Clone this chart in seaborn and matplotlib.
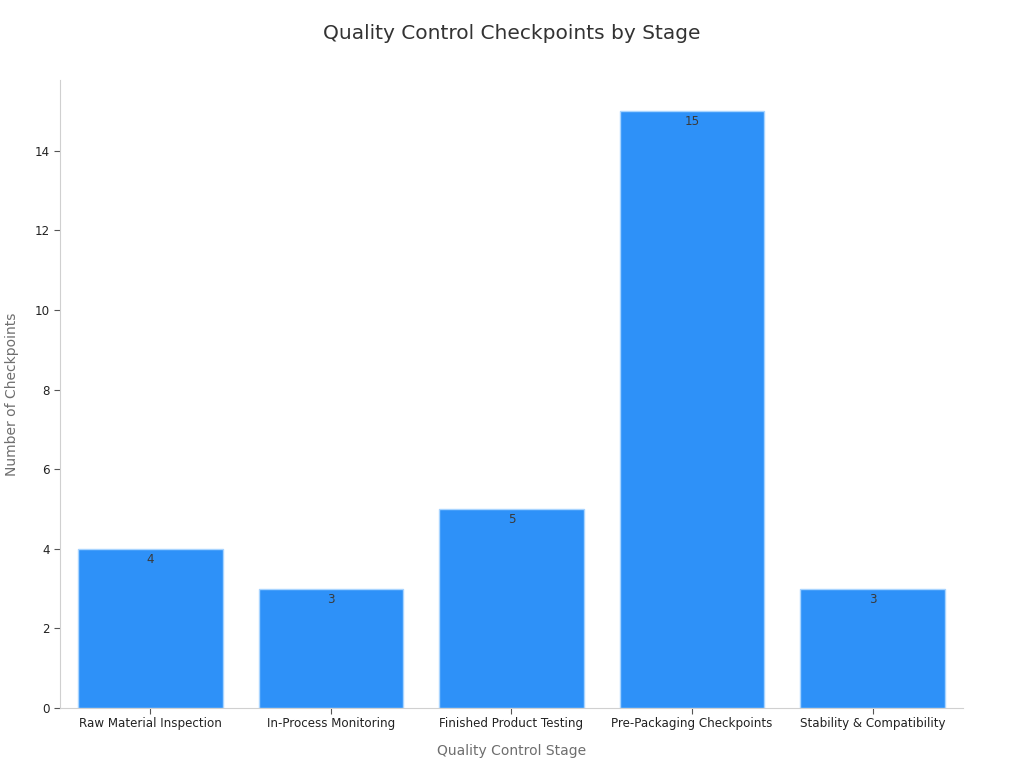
import pandas as pd
import matplotlib
matplotlib.use('Agg')
import matplotlib.pyplot as plt
import seaborn as sns

stages = ['Raw Material Inspection', 'In-Process Monitoring', 'Finished Product Testing',
          'Pre-Packaging Checkpoints', 'Stability & Compatibility']
checkpoints = [4, 3, 5, 15, 3]

df = pd.DataFrame({'stage': stages, 'count': checkpoints})

sns.set_style('white')
plt.rcParams['font.family'] = ['DejaVu Sans']

fig = plt.figure(figsize=(10.24, 7.68), dpi=100)
ax = fig.add_axes([0.0586, 0.078, 0.8818, 0.818])

sns.barplot(data=df, x='stage', y='count', color='#2E91F8', saturation=1,
            width=0.8, edgecolor='#A8D4FF', linewidth=1, ax=ax)

for i, v in enumerate(checkpoints):
    ax.text(i, v - 0.1, str(v), ha='center', va='top', fontsize=8.6, color='#3a3a3a')

ax.set_xlim(-0.5, 4.5)
ax.set_ylim(0, 15.78)
ax.set_yticks([0, 2, 4, 6, 8, 10, 12, 14])

for s in ['top', 'right']:
    ax.spines[s].set_visible(False)
for s in ['left', 'bottom']:
    ax.spines[s].set_color('#d0d0d0')
    ax.spines[s].set_linewidth(0.8)

ax.tick_params(axis='both', which='both', length=4, color='#555555', labelsize=8.6,
               labelcolor='#222222', bottom=True, left=True)
ax.tick_params(axis='x', pad=2.5)

ax.set_xlabel('Quality Control Stage', fontsize=10, color='#6e6e6e', labelpad=10)
ax.set_ylabel('Number of Checkpoints', fontsize=10, color='#6e6e6e', labelpad=11)
fig.suptitle('Quality Control Checkpoints by Stage', fontsize=14.5, color='#333333', y=0.969)

fig.savefig('out.png', dpi=100)
